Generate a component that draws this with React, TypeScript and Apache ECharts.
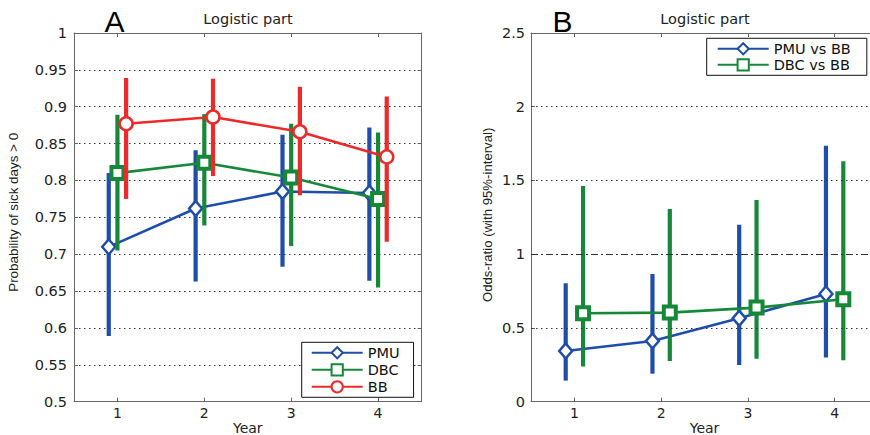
import React, { useEffect, useRef } from "react";
import * as echarts from "echarts";

// ---------- data ----------
const years = [1, 2, 3, 4];
const yearTicks = [1, 2, 3, 4];

// Panel A: probability of sick days > 0
const pmuProb = [0.71, 0.762, 0.785, 0.783];
const pmuProbLo = [0.589, 0.663, 0.683, 0.664];
const pmuProbHi = [0.81, 0.841, 0.862, 0.872];
const dbcProb = [0.81, 0.824, 0.804, 0.775];
const dbcProbLo = [0.705, 0.739, 0.711, 0.655];
const dbcProbHi = [0.889, 0.89, 0.877, 0.865];
const bbProb = [0.877, 0.886, 0.866, 0.832];
const bbProbLo = [0.775, 0.806, 0.78, 0.717];
const bbProbHi = [0.939, 0.938, 0.927, 0.914];

// Panel B: odds-ratios vs BB
const pmuOr = [0.344, 0.412, 0.566, 0.731];
const pmuOrLo = [0.143, 0.19, 0.249, 0.299];
const pmuOrHi = [0.803, 0.866, 1.199, 1.735];
const dbcOr = [0.6, 0.604, 0.638, 0.695];
const dbcOrLo = [0.238, 0.276, 0.292, 0.281];
const dbcOrHi = [1.463, 1.307, 1.368, 1.631];

const orGridLines = [0.5, 1.5, 2];
const orRefLine = 1;

// ---------- style ----------
const BLUE = "#1f4eaa";
const GREEN = "#17883a";
const RED = "#ec2a2a";
const AXIS = "#666";
const HFONT = "DejaVu Sans";
const VFONT = "Liberation Sans";

const pts = (vals: number[], off: number) => years.map((y, i) => [y + off, vals[i]]);
const bars = (lo: number[], hi: number[], off: number) => years.map((y, i) => [y + off, lo[i], hi[i]]);

function errSeries(data: number[][], color: string, xi: number, yi: number, z: number) {
  return {
    type: "custom",
    xAxisIndex: xi,
    yAxisIndex: yi,
    z,
    silent: true,
    encode: { x: 0, y: [1, 2] },
    data,
    renderItem: (params: any, api: any) => {
      const x = api.value(0);
      const a = api.coord([x, api.value(1)]);
      const b = api.coord([x, api.value(2)]);
      return {
        type: "line",
        shape: { x1: a[0], y1: a[1], x2: b[0], y2: b[1] },
        style: { stroke: color, lineWidth: 4.2 },
      };
    },
  };
}

function lineSeries(name: string, data: number[][], color: string, symbol: string, size: any, bw: number, xi: number, yi: number, z: number) {
  return {
    type: "line",
    name,
    xAxisIndex: xi,
    yAxisIndex: yi,
    z,
    data,
    symbol,
    symbolSize: size,
    showAllSymbol: true,
    lineStyle: { color, width: 2.6 },
    itemStyle: { color: "#fff", borderColor: color, borderWidth: bw },
  };
}

function xAxes(gi: number, pos: string) {
  return {
    gridIndex: gi,
    type: "value",
    position: pos,
    min: 0.5,
    max: 4.5,
    axisLine: { show: true, onZero: false, lineStyle: { color: AXIS, width: 1 } },
    axisTick: { show: true, inside: true, length: 4, customValues: yearTicks, lineStyle: { color: AXIS } },
    axisLabel: {
      show: pos === "bottom",
      customValues: yearTicks,
      margin: 4,
      fontFamily: HFONT,
      fontSize: 14,
      color: "#222",
    },
    splitLine: { show: false },
    name: pos === "bottom" ? "Year" : "",
    nameLocation: "middle",
    nameGap: 19,
    nameMoveOverlap: false,
    nameTextStyle: { fontFamily: HFONT, fontSize: 14, color: "#222", lineHeight: 14 },
  };
}

function yAxisSide(gi: number, min: number, max: number, interval: number, pos: string) {
  return {
    gridIndex: gi,
    type: "value",
    min,
    max,
    interval,
    position: pos,
    axisLine: { show: true, lineStyle: { color: AXIS } },
    axisTick: { show: true, inside: true, length: 4, lineStyle: { color: AXIS } },
    axisLabel: { show: false },
    splitLine: { show: false },
  };
}

export default function App() {
  const ref = useRef<HTMLDivElement>(null);
  useEffect(() => {
    if (!ref.current) return;
    const chart = echarts.init(ref.current, null, { renderer: "svg" });
    const dotted = { color: "#333", width: 1, type: [1.5, 3.5] };
    const legendBase = {
      orient: "vertical",
      itemWidth: 51,
      itemHeight: 14,
      borderColor: "#111",
      borderWidth: 1,
      borderRadius: 0,
      backgroundColor: "#fff",
      z: 20,
      selectedMode: false,
      textStyle: { fontFamily: HFONT, fontSize: 14.5, color: "#111" },
    };
    const option: any = {
      animation: false,
      backgroundColor: "#fff",
      grid: [
        { left: 74, top: 33, width: 347.5, height: 368.7, outerBoundsMode: "none", containLabel: false },
        { left: 531, top: 33, width: 347, height: 368.7, outerBoundsMode: "none", containLabel: false },
      ],
      xAxis: [xAxes(0, "bottom"), xAxes(0, "top"), xAxes(1, "bottom"), xAxes(1, "top")],
      yAxis: [
        {
          ...yAxisSide(0, 0.5, 1, 0.05, "left"),
          axisLabel: {
            margin: 7,
            fontFamily: HFONT,
            fontSize: 14.5,
            color: "#222",
            formatter: (v: number) => String(+v.toFixed(2)),
          },
          splitLine: { show: true, lineStyle: dotted },
          name: "Probability of sick days > 0",
          nameLocation: "middle",
          nameGap: 54,
          nameMoveOverlap: false,
          nameTextStyle: { fontFamily: VFONT, fontSize: 13.4, color: "#222", padding: [0, 0, 0, 10] },
        },
        {
          ...yAxisSide(1, 0, 2.5, 0.5, "left"),
          axisLabel: {
            margin: 6,
            fontFamily: HFONT,
            fontSize: 14.5,
            color: "#222",
            formatter: (v: number) => String(+v.toFixed(1)),
          },
          name: "Odds-ratio (with 95%-interval)",
          nameLocation: "middle",
          nameGap: 37,
          nameMoveOverlap: false,
          nameTextStyle: { fontFamily: VFONT, fontSize: 13.2, color: "#222", padding: [0, 0, 0, 5] },
        },
        yAxisSide(0, 0.5, 1, 0.05, "right"),
        yAxisSide(1, 0, 2.5, 0.5, "right"),
      ],
      legend: [
        {
          ...legendBase,
          data: ["PMU", "DBC", "BB"],
          left: 301.7,
          top: 342.3,
          itemGap: 2,
          padding: [3, 14, 3, 9],
        },
        {
          ...legendBase,
          data: ["PMU vs BB", "DBC vs BB"],
          left: 706.7,
          top: 38.3,
          itemGap: 1,
          padding: [3, 16, 3, 10],
        },
      ],
      graphic: [
        { type: "text", x: 114.5, y: 21, style: { text: "A", fontFamily: VFONT, fontSize: 30, fill: "#000", align: "center", verticalAlign: "middle" } },
        { type: "text", x: 562.5, y: 21, style: { text: "B", fontFamily: VFONT, fontSize: 30, fill: "#000", align: "center", verticalAlign: "middle" } },
        { type: "text", x: 248, y: 19, style: { text: "Logistic part", fontFamily: HFONT, fontSize: 14.5, fill: "#222", align: "center", verticalAlign: "middle" } },
        { type: "text", x: 705, y: 19, style: { text: "Logistic part", fontFamily: HFONT, fontSize: 14.5, fill: "#222", align: "center", verticalAlign: "middle" } },
      ],
      series: [
        // reference / grid lines for panel B
        {
          type: "line",
          name: "_grid",
          xAxisIndex: 2,
          yAxisIndex: 1,
          data: [],
          z: 1,
          silent: true,
          markLine: {
            silent: true,
            symbol: "none",
            label: { show: false },
            data: [
              ...orGridLines.map((v) => ({ yAxis: v, lineStyle: dotted })),
              { yAxis: orRefLine, lineStyle: { color: "#333", width: 1, type: [7, 3, 2, 3] } },
            ],
          },
        },
        // Panel A
        errSeries(bars(pmuProbLo, pmuProbHi, -0.1), BLUE, 0, 0, 2),
        lineSeries("PMU", pts(pmuProb, -0.1), BLUE, "diamond", [13, 15], 2.5, 0, 0, 3),
        errSeries(bars(dbcProbLo, dbcProbHi, 0), GREEN, 0, 0, 4),
        lineSeries("DBC", pts(dbcProb, 0), GREEN, "rect", 12, 4, 0, 0, 5),
        errSeries(bars(bbProbLo, bbProbHi, 0.1), RED, 0, 0, 6),
        lineSeries("BB", pts(bbProb, 0.1), RED, "circle", 13, 2.5, 0, 0, 7),
        // Panel B
        errSeries(bars(pmuOrLo, pmuOrHi, -0.1), BLUE, 2, 1, 2),
        lineSeries("PMU vs BB", pts(pmuOr, -0.1), BLUE, "diamond", [13, 15], 2.5, 2, 1, 3),
        errSeries(bars(dbcOrLo, dbcOrHi, 0.1), GREEN, 2, 1, 4),
        lineSeries("DBC vs BB", pts(dbcOr, 0.1), GREEN, "rect", 12, 4, 2, 1, 5),
      ],
    };
    chart.setOption(option);
    return () => chart.dispose();
  }, []);
  return (
    <div
      ref={ref}
      style={{ position: "fixed", left: 0, top: 0, width: 870, height: 435, background: "#fff" }}
    />
  );
}
